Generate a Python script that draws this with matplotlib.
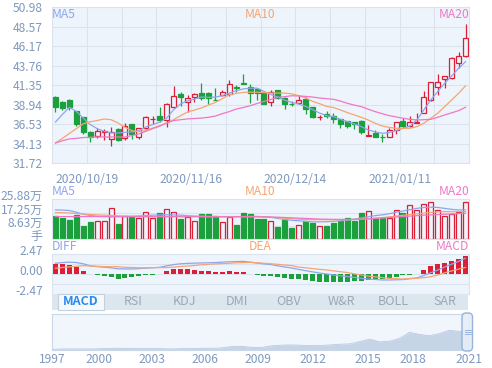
import numpy as np
import matplotlib
matplotlib.use("Agg")
import matplotlib.pyplot as plt
from matplotlib.patches import Rectangle, FancyBboxPatch
from matplotlib.transforms import ScaledTranslation

plt.rcParams['font.family'] = ['Noto Sans CJK SC', 'DejaVu Sans']

# ---------------- data ----------------
opens = [39.86, 39.33, 39.57, 38.22, 37.44, 35.55, 35.06, 35.63, 34.73, 35.96,
         34.81, 36.58, 34.97, 36.08, 37.15, 37.60, 37.11, 38.63, 40.23, 39.24,
         39.90, 40.39, 40.39, 39.57, 40.14, 40.27, 41.10, 41.58, 41.09, 40.88,
         40.51, 39.24, 40.80, 39.78, 39.04, 39.16, 39.69, 38.67, 37.40, 37.85,
         37.57, 37.19, 36.95, 36.82, 36.95, 35.14, 35.51, 34.97, 34.93, 35.88,
         36.95, 36.29, 36.74, 37.90, 39.54, 41.10, 42.09, 42.21, 44.07, 45.01]
closes = [38.63, 38.50, 38.63, 36.62, 35.55, 34.93, 35.75, 35.67, 35.55, 34.56,
          36.29, 35.39, 36.08, 37.44, 37.20, 37.11, 39.08, 40.06, 39.86, 39.78,
          40.23, 39.74, 39.74, 39.53, 40.56, 41.50, 41.05, 41.50, 40.43, 40.39,
          39.04, 40.47, 39.78, 39.00, 39.00, 39.57, 38.46, 37.40, 37.44, 37.52,
          37.15, 36.62, 36.37, 36.62, 35.59, 35.18, 35.02, 34.93, 35.88, 36.78,
          36.33, 36.78, 36.78, 39.95, 41.72, 41.72, 42.46, 44.68, 45.01, 47.15]
highs = [39.98, 39.41, 39.65, 38.22, 37.44, 35.67, 36.08, 35.96, 36.25, 36.04,
         36.70, 36.58, 36.12, 37.60, 37.60, 38.63, 39.20, 41.26, 40.56, 40.14,
         40.39, 41.62, 40.47, 41.05, 40.80, 41.95, 41.34, 42.73, 41.54, 41.00,
         40.51, 40.80, 40.80, 39.90, 39.41, 40.18, 39.90, 38.67, 37.73, 38.14,
         37.90, 37.19, 36.95, 36.82, 37.07, 36.45, 35.84, 35.34, 36.04, 36.78,
         37.28, 37.57, 37.90, 40.65, 41.80, 42.75, 42.50, 44.81, 45.51, 48.92]
lows = [38.05, 38.26, 38.34, 36.29, 35.39, 34.40, 34.81, 34.65, 33.82, 34.48,
        34.65, 34.73, 34.73, 35.96, 36.58, 36.79, 36.20, 38.55, 38.75, 38.00,
        39.33, 39.57, 39.08, 39.49, 40.06, 40.06, 40.56, 41.50, 39.16, 39.57,
        39.00, 38.75, 39.66, 38.42, 38.75, 39.00, 37.81, 37.32, 37.03, 37.32,
        36.74, 36.04, 36.12, 35.92, 35.30, 35.10, 35.02, 34.40, 34.93, 35.30,
        36.04, 36.25, 36.66, 37.90, 39.46, 40.16, 40.98, 42.13, 43.53, 44.89]
ma5 = [36.82, 37.75, 38.63, 38.13, 37.30, 36.50, 36.00, 35.67, 35.47, 35.47,
       35.55, 35.60, 35.75, 36.20, 36.50, 36.80, 37.30, 38.34, 39.04, 39.45,
       39.65, 39.90, 39.86, 39.90, 40.06, 40.39, 40.68, 40.90, 41.00, 41.00,
       40.60, 40.20, 39.90, 39.50, 39.24, 39.04, 38.75, 38.34, 37.93, 37.60,
       37.48, 37.15, 36.87, 36.58, 36.25, 35.84, 35.59, 35.43, 35.51, 35.76,
       36.04, 36.33, 37.07, 38.31, 39.54, 40.57, 41.60, 42.50, 43.45, 44.27]
ma10 = [34.23, 34.80, 35.40, 36.00, 36.60, 36.85, 37.00, 37.19, 37.10, 36.70,
        36.16, 35.75, 35.60, 35.80, 36.08, 36.37, 36.70, 37.11, 37.60, 38.05,
        38.30, 38.55, 38.90, 39.24, 39.70, 40.18, 40.35, 40.47, 40.50, 40.50,
        40.45, 40.39, 40.39, 40.39, 40.30, 40.06, 39.78, 39.37, 39.08, 38.75,
        38.60, 38.31, 37.98, 37.69, 37.40, 37.07, 36.66, 36.33, 36.16, 36.04,
        36.04, 36.04, 36.25, 36.66, 37.28, 37.90, 38.72, 39.54, 40.36, 41.27]
ma20 = [34.23, 34.50, 34.73, 34.80, 34.90, 34.93, 34.97, 34.97, 34.97, 34.97,
        34.97, 35.14, 35.34, 35.67, 36.00, 36.30, 36.70, 37.00, 37.10, 37.20,
        37.25, 37.30, 37.40, 37.55, 37.85, 38.10, 38.42, 38.60, 38.83, 39.10,
        39.37, 39.60, 39.86, 39.95, 40.06, 40.03, 39.98, 39.90, 39.78, 39.70,
        39.62, 39.40, 39.13, 38.90, 38.72, 38.40, 38.10, 37.85, 37.61, 37.45,
        37.28, 37.15, 37.07, 37.10, 37.15, 37.40, 37.69, 37.95, 38.22, 38.64]

volumes = [15.3, 13.8, 12.5, 16.0, 8.8, 11.2, 12.1, 12.1, 20.1, 9.9,
           15.1, 14.7, 13.8, 17.5, 13.6, 17.0, 19.4, 17.9, 13.2, 14.2,
           11.9, 16.4, 16.2, 15.1, 11.0, 14.2, 9.5, 17.0, 16.4, 12.9,
           13.4, 11.9, 8.2, 12.7, 7.3, 9.3, 11.9, 10.4, 8.6, 8.6,
           10.4, 11.9, 13.6, 12.1, 17.3, 18.3, 14.0, 14.0, 14.0, 19.0,
           16.8, 22.2, 19.0, 22.9, 23.9, 19.0, 15.1, 16.4, 17.9, 23.9]
vol_ma5 = [19.0, 18.9, 18.6, 17.5, 16.2, 15.4, 14.9, 14.7, 14.7, 14.8,
           14.8, 14.9, 15.1, 15.4, 15.6, 15.8, 15.9, 15.8, 15.6, 15.3,
           15.0, 14.9, 14.8, 14.7, 14.6, 14.6, 14.6, 14.7, 14.8, 14.8,
           14.6, 14.2, 13.5, 12.8, 12.3, 12.0, 11.6, 11.3, 11.3, 11.4,
           11.6, 12.0, 12.4, 13.0, 13.8, 14.6, 15.3, 15.8, 16.5, 17.5,
           18.3, 19.2, 20.0, 20.6, 20.8, 20.6, 20.0, 19.4, 19.0, 19.0]
vol_ma10 = [17.3, 17.2, 17.0, 16.7, 16.4, 16.1, 15.8, 15.6, 15.4, 15.2,
            15.0, 14.9, 14.8, 14.8, 14.8, 14.8, 14.8, 14.8, 14.8, 14.8,
            14.8, 14.8, 14.7, 14.7, 14.7, 14.7, 14.7, 14.7, 14.7, 14.6,
            14.5, 14.3, 14.0, 13.6, 13.3, 13.0, 12.8, 12.7, 12.7, 12.7,
            12.7, 12.7, 12.7, 12.8, 13.0, 13.3, 13.6, 14.0, 14.5, 15.0,
            15.5, 16.0, 16.5, 17.0, 17.4, 17.7, 17.9, 17.9, 17.9, 17.9]
vol_ma20 = [14.7, 14.7, 14.7, 14.7, 14.7, 14.7, 14.7, 14.7, 14.6, 14.6,
            14.6, 14.6, 14.6, 14.6, 14.6, 14.6, 14.6, 14.6, 14.6, 14.6,
            14.6, 14.6, 14.6, 14.6, 14.6, 14.6, 14.6, 14.6, 14.6, 14.6,
            14.5, 14.4, 14.3, 14.1, 13.9, 13.7, 13.5, 13.3, 13.1, 13.0,
            12.9, 12.9, 12.9, 12.9, 13.0, 13.2, 13.5, 13.8, 14.1, 14.4,
            14.7, 15.0, 15.3, 15.6, 15.8, 16.0, 16.2, 16.4, 16.6, 16.8]

macd_bar = [1.23, 1.23, 1.15, 0.95, 0.45, 0.08, -0.05, -0.15, -0.28, -0.53,
            -0.40, -0.37, -0.20, -0.10, -0.07, 0.07, 0.41, 0.62, 0.66, 0.66,
            0.58, 0.45, 0.37, 0.33, 0.33, 0.37, 0.29, 0.29, 0.04, -0.10,
            -0.15, -0.20, -0.37, -0.50, -0.58, -0.58, -0.70, -0.82, -0.90, -0.99,
            -0.99, -0.99, -0.99, -0.86, -0.82, -0.70, -0.66, -0.58, -0.41, -0.29,
            -0.12, -0.08, 0.08, 0.53, 0.99, 1.23, 1.44, 1.65, 1.93, 2.26]
diff = [1.36, 1.45, 1.50, 1.45, 1.30, 1.05, 0.95, 0.88, 0.80, 0.68,
        0.66, 0.66, 0.70, 0.76, 0.80, 0.86, 1.05, 1.20, 1.30, 1.35,
        1.38, 1.40, 1.42, 1.45, 1.50, 1.55, 1.57, 1.60, 1.50, 1.38,
        1.28, 1.20, 1.05, 0.90, 0.78, 0.60, 0.45, 0.30, 0.16, 0.04,
        -0.08, -0.18, -0.28, -0.38, -0.50, -0.58, -0.64, -0.70, -0.70, -0.68,
        -0.65, -0.55, -0.45, -0.15, 0.20, 0.53, 0.90, 1.25, 1.60, 1.98]
dea = [0.74, 0.84, 0.92, 0.98, 1.08, 1.02, 0.98, 0.95, 0.94, 0.94,
       0.86, 0.84, 0.80, 0.81, 0.83, 0.83, 0.84, 0.89, 0.97, 1.02,
       1.09, 1.17, 1.23, 1.28, 1.33, 1.36, 1.42, 1.45, 1.48, 1.43,
       1.36, 1.30, 1.23, 1.15, 1.07, 0.89, 0.80, 0.71, 0.61, 0.54,
       0.42, 0.32, 0.22, 0.05, -0.09, -0.23, -0.31, -0.41, -0.50, -0.54,
       -0.59, -0.51, -0.49, -0.42, -0.30, -0.09, 0.18, 0.42, 0.64, 0.85]

date_labels = ['2020/10/19', '2020/11/16', '2020/12/14', '2021/01/11']
date_label_idx = [5, 20, 35, 50]
price_ticks = [31.72, 34.13, 36.53, 38.94, 41.35, 43.76, 46.17, 48.57, 50.98]
vol_ticks = [0, 8.63, 17.25, 25.88]
vol_tick_labels = ['手', '8.63万', '17.25万', '25.88万']
macd_ticks = [-2.47, 0.0, 2.47]
tabs = ['MACD', 'RSI', 'KDJ', 'DMI', 'OBV', 'W&R', 'BOLL', 'SAR']

# full history shown in the zoom slider (1997 -> 2021)
history = [2, 3, 3, 3, 3, 4, 5, 5, 4, 4, 4, 4, 3, 4, 4, 5, 5, 6, 10, 11,
           8, 7, 12, 14, 15, 14, 13, 13, 15, 17, 18, 25, 32, 24, 26, 34,
           52, 46, 42, 48, 58, 55, 54]
years = ['1997', '2000', '2003', '2006', '2009', '2012', '2015', '2018', '2021']
year_pos = [0.0, 0.113, 0.240, 0.367, 0.494, 0.626, 0.758, 0.866, 1.0]

# ---------------- style ----------------
W, H = 492, 368
PANEL = '#eef4fb'
GRID = '#dbe4ee'
TXT = '#7f99bf'
RED = '#dc1f36'
GREEN = '#1ca03e'
C5, C10, C20 = '#8ea6ef', '#f6a572', '#ee78c6'
FS = 8.7

fig = plt.figure(figsize=(W / 100, H / 100), dpi=100)


def px_axes(x0, y0, x1, y1):
    a = fig.add_axes([x0 / W, 1 - y1 / H, (x1 - x0) / W, (y1 - y0) / H])
    a.set_facecolor(PANEL)
    for s in a.spines.values():
        s.set_color(GRID)
        s.set_linewidth(0.8)
    return a


n = len(closes)
x = np.arange(n)
bw = 0.72
up = [c >= o for o, c in zip(opens, closes)]

# ---- main candlestick panel ----
ax = px_axes(52, 7.3, 469, 163.3)
for i in range(n):
    col = RED if up[i] else GREEN
    ax.vlines(i, lows[i], highs[i], color=col, lw=0.9, zorder=2)
    lo, hi = sorted((opens[i], closes[i]))
    ax.add_patch(Rectangle((i - bw / 2, lo), bw, max(hi - lo, 0.04),
                           facecolor=PANEL if up[i] else col, edgecolor=col,
                           lw=0.9, zorder=3))
ax.plot(x, ma5, color=C5, lw=0.9, zorder=4)
ax.plot(x, ma10, color=C10, lw=0.9, zorder=4)
ax.plot(x, ma20, color=C20, lw=0.9, zorder=4)
ax.set_xlim(-0.5, n - 0.5)
ax.set_ylim(price_ticks[0], price_ticks[-1])
ax.set_yticks(price_ticks)
ax.set_yticklabels(['%.2f' % v for v in price_ticks])
grid_x = np.arange(4.5, n - 1, 5)
ax.set_xticks(grid_x)
lab_map = {i - 0.5: d for i, d in zip(date_label_idx, date_labels)}
ax.set_xticklabels([lab_map.get(g, '') for g in grid_x])
ax.tick_params(length=0, labelsize=FS, labelcolor=TXT)
ax.tick_params(axis='y', pad=6.5)
ax.tick_params(axis='x', pad=6.8)
ax.grid(True, color=GRID, lw=0.8, zorder=0)
ax.set_axisbelow(True)

# ---- volume panel ----
axv = px_axes(52, 199.3, 469, 239.3)
axv.bar(x, volumes, width=bw,
        color=[PANEL if u else GREEN for u in up],
        edgecolor=[RED if u else GREEN for u in up], lw=0.9, zorder=2)
axv.plot(x, vol_ma5, color=C5, lw=0.9, zorder=3)
axv.plot(x, vol_ma10, color=C10, lw=0.9, zorder=3)
axv.plot(x, vol_ma20, color=C20, lw=0.9, zorder=3)
axv.set_xlim(-0.5, n - 0.5)
axv.set_ylim(vol_ticks[0], vol_ticks[-1])
axv.set_yticks(vol_ticks)
axv.set_yticklabels([])
axv.set_xticks([])
axv.tick_params(length=0)
axv.grid(True, axis='y', color=GRID, lw=0.8, zorder=0)
off = ScaledTranslation(-9 / 100, 2.5 / 100, fig.dpi_scale_trans)
for v, lab in zip(vol_ticks, vol_tick_labels):
    axv.text(0, v, lab, transform=axv.get_yaxis_transform() + off,
             ha='right', va='center', fontsize=FS, color=TXT, clip_on=False)

# ---- MACD panel ----
axm = px_axes(52, 254.3, 469, 294.3)
axm.bar(x, macd_bar, width=bw, color=[RED if v >= 0 else GREEN for v in macd_bar],
        lw=0, zorder=2)
axm.plot(x, diff, color=C5, lw=0.9, zorder=3)
axm.plot(x, dea, color=C10, lw=0.9, zorder=3)
axm.set_xlim(-0.5, n - 0.5)
axm.set_ylim(macd_ticks[0], macd_ticks[-1])
axm.set_yticks([-2.47, -1.235, 0, 1.235, 2.47])
axm.set_yticklabels([])
axm.set_xticks([])
axm.tick_params(length=0)
axm.grid(True, axis='y', color=GRID, lw=0.8, zorder=0)
for v in macd_ticks:
    axm.text(0, v, '%.2f' % v, transform=axm.get_yaxis_transform() + off,
             ha='right', va='center', fontsize=FS, color=TXT, clip_on=False)

# ---- zoom slider ----
axs = px_axes(52, 314, 469, 350)
axs.set_facecolor('#f1f6fc')
for s in axs.spines.values():
    s.set_color('#cad7e6')
hx = np.linspace(0, 1, len(history))
axs.fill_between(hx, 0, history, color='#c6d4e7', lw=0)
axs.plot(hx, history, color='#b9cae0', lw=0.6)
axs.set_xlim(0, 1)
axs.set_ylim(0, 106)
axs.set_yticks([])
axs.set_xticks(year_pos)
axs.set_xticklabels(years)
axs.tick_params(length=0, labelsize=FS, labelcolor=TXT, pad=2.5)

# ---- overlay: legends, tab bar, slider handle (pixel coordinates) ----
ov = fig.add_axes([0, 0, 1, 1])
ov.set_xlim(0, W)
ov.set_ylim(H, 0)
ov.axis('off')


def legend_row(y, names):
    ov.text(52, y, names[0], color=C5, fontsize=FS, ha='left', va='center')
    ov.text(260, y, names[1], color=C10, fontsize=FS, ha='center', va='center')
    ov.text(469, y, names[2], color=C20, fontsize=FS, ha='right', va='center')


legend_row(15, ['MA5', 'MA10', 'MA20'])
legend_row(191.5, ['MA5', 'MA10', 'MA20'])
legend_row(246, ['DIFF', 'DEA', 'MACD'])

ov.add_patch(Rectangle((52, 293.5), 416, 16.5, fc='#dce6ef', ec='none'))
ov.add_patch(Rectangle((57.5, 294), 46.5, 15.5, fc='#f6f9fc', ec='#c3d1df', lw=0.8))
for k, t in enumerate(tabs):
    if k == 0:
        ov.text(81 + 52 * k, 301.5, t, color='#2b8af0', fontsize=9,
                fontweight='bold', ha='center', va='center')
    else:
        ov.text(81 + 52 * k, 301.5, t, color='#9ea8b3', fontsize=9,
                ha='center', va='center')

ov.add_patch(FancyBboxPatch((462, 313), 10.5, 38,
                            boxstyle='round,pad=0,rounding_size=4',
                            fc='#e6eef8', ec='#8caed7', lw=1.0, alpha=0.9))
for yy in (330, 332, 334):
    ov.plot([464.5, 467], [yy, yy], color='#8caed7', lw=0.6)
    ov.plot([468, 470.5], [yy, yy], color='#8caed7', lw=0.6)

fig.savefig('out.png', dpi=100)
